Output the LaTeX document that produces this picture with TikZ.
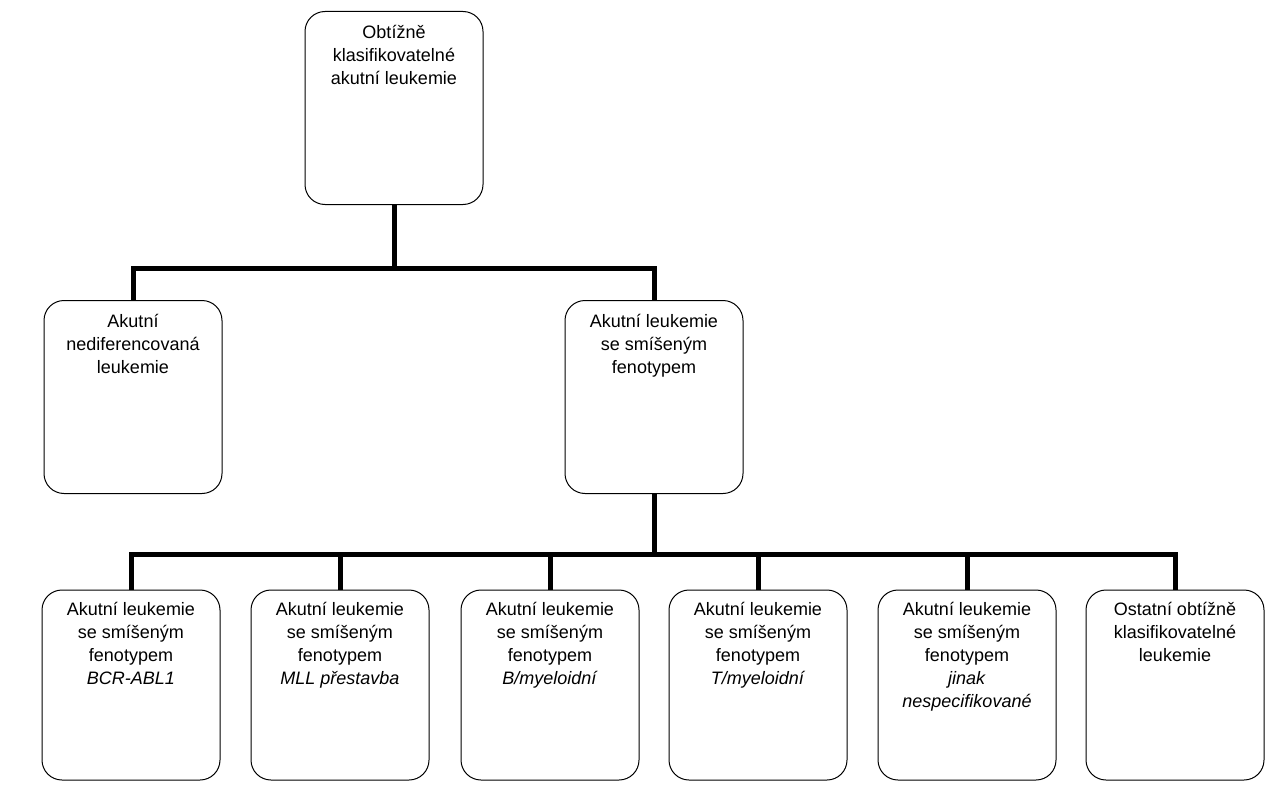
\documentclass[tikz,border=0pt]{standalone}
\usepackage{fontspec}
\setmainfont{Liberation Sans}
\usetikzlibrary{calc}
\tikzset{
every picture/.style={line width=1pt},
box/.style={draw, rounded corners=20pt, minimum width=178pt, minimum height=193pt,
  inner sep=0pt, font=\fontsize{18}{23}\selectfont},
link/.style={line width=5pt}
}
\newcommand{\boxtext}[1]{\parbox[t][170pt]{172pt}{\centering\vspace{2pt}#1}}

\begin{document}
\begin{tikzpicture}[x=1pt,y=-1pt]
  \useasboundingbox (0,0) rectangle (1275,800);
  % top level
  \node [box] at (394, 108) (T) {\boxtext{Obtížně\\klasifikovatelné\\akutní leukemie}};
  % second level
  \node [box] at (133, 397) (U) {\boxtext{Akutní\\nediferencovaná\\leukemie}};
  \node [box] at (654, 397) (M) {\boxtext{Akutní leukemie\\se smíšeným\\fenotypem}};
  % third level
  \node [box, minimum height=190pt] at (131, 685) (M1) {\boxtext{Akutní leukemie\\se smíšeným\\fenotypem\\\textit{BCR-ABL1}}};
  \node [box, minimum height=190pt] at (340, 685) (M2) {\boxtext{Akutní leukemie\\se smíšeným\\fenotypem\\\textit{MLL přestavba}}};
  \node [box, minimum height=190pt] at (550, 685) (M3) {\boxtext{Akutní leukemie\\se smíšeným\\fenotypem\\\textit{B/myeloidní}}};
  \node [box, minimum height=190pt] at (758, 685) (M4) {\boxtext{Akutní leukemie\\se smíšeným\\fenotypem\\\textit{T/myeloidní}}};
  \node [box, minimum height=190pt] at (967, 685) (M5) {\boxtext{Akutní leukemie\\se smíšeným\\fenotypem\\\textit{jinak}\\\textit{nespecifikované}}};
  \node [box, minimum height=190pt] at (1175, 685) (M6) {\boxtext{Ostatní obtížně\\klasifikovatelné\\leukemie}};

  % connectors
  \draw [link] (T.south) -- ++(0,63) coordinate (J1);
  \draw [link] (U.north) |- (J1) -| (M.north);
  \draw [link] (M.south) -- ++(0,60) coordinate (J2);
  \draw [link] (M1.north) |- (J2) -| (M6.north);
  \foreach \n in {M2,M3,M4,M5}
    \draw [link] (\n.north) -- (\n.north |- J2);
\end{tikzpicture}
\end{document}
